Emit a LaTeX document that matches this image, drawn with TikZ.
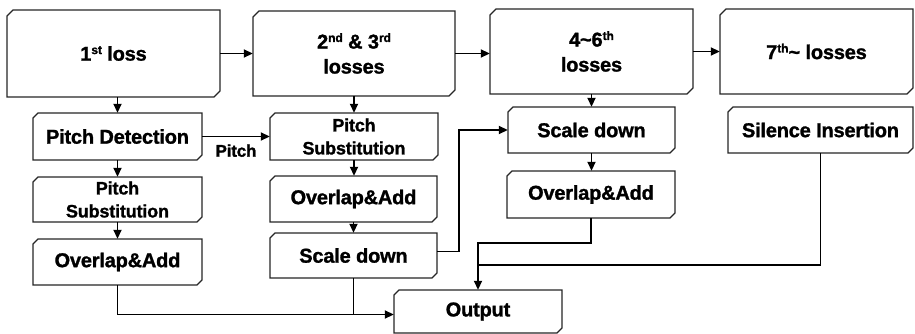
\documentclass[tikz,border=0pt]{standalone}
\usepackage{fontspec}
\setmainfont{Liberation Sans}[BoldFeatures={FakeBold=1.3,LetterSpace=-1}]
\usetikzlibrary{arrows.meta,calc}
\newcommand\myfs[2]{\fontsize{#1}{#2}\selectfont\bfseries}
\newcommand\sups[1]{\raisebox{0.33em}{\fontsize{12}{12}\selectfont\bfseries #1}}
\tikzset{
  boxline/.style={draw=black!85, line width=1.2pt, fill=white, line join=miter},
  boxnode/.style={rectangle, inner sep=0pt, align=center, text=black},
  big/.style={font=\myfs{20}{25}},
  mid/.style={font=\myfs{18}{23}},
  conn/.style={draw=black, line width=1.8pt},
  arr/.style={conn, -{Triangle[length=9pt,width=8pt]}},
  lbl/.style={font=\myfs{17}{20}, inner sep=0pt}
}
% name, x1, y1, x2, y2, chamfer, text, style
\newcommand\cbox[8]{%
  \draw[boxline] (#2,#3+#6) -- (#2+#6,#3) -- (#4,#3) -- (#4,#5-#6) -- (#4-#6,#5) -- (#2,#5) -- cycle;
  \node[boxnode, #8, minimum width={#4pt-#2pt}, minimum height={#5pt-#3pt}] (#1) at ({(#2+#4)/2},{(#3+#5)/2}) {#7};
}
\begin{document}
\begin{tikzpicture}[x=1pt,y=-1pt]
\useasboundingbox (0,0) rectangle (915,334);
% top row
\cbox{b1}{7}{10}{220}{97}{6}{1\sups{st} loss}{big}
\cbox{b2}{253}{11}{455}{96}{6}{2\sups{nd} \& 3\sups{rd}\\losses}{big}
\cbox{b3}{490}{9}{693}{94}{6}{4\textasciitilde6\sups{th}\\losses}{big}
\cbox{b4}{720}{9}{913}{94}{6}{7\sups{th}\textasciitilde{} losses}{big}
% second row
\cbox{pd}{33}{113}{202}{160}{5}{Pitch Detection}{big}
\cbox{ps2}{270}{113}{438}{160}{5}{Pitch\\Substitution}{mid}
\cbox{sd3}{508}{107}{675}{153}{5}{Scale down}{big}
\cbox{si}{728}{107}{913}{153}{5}{Silence Insertion}{big}
% third row
\cbox{ps1}{33}{177}{202}{222}{5}{Pitch\\Substitution}{mid}
\cbox{oa2}{270}{176}{437}{222}{5}{Overlap\&Add}{big}
\cbox{oa3}{507}{171}{675}{218}{5}{Overlap\&Add}{big}
% fourth row
\cbox{oa1}{33}{239}{202}{285}{5}{Overlap\&Add}{big}
\cbox{sd2}{270}{233}{437}{278}{5}{Scale down}{big}
% output
\cbox{out}{394}{290}{562}{333}{5}{Output}{big}
% helper coordinates
\coordinate (low) at ([yshift=-3pt]out.west);
\coordinate (j1) at (459,0);
\coordinate (y265) at (0,265);
% top chain
\draw[arr] (b1.east) -- (b2.west);
\draw[arr] (b2.east) -- (b2.east -| b3.west);
\draw[arr] (b3.east) -- (b3.east -| b4.west);
% column 1
\draw[arr] (b1.south -| pd.north) -- (pd.north);
\draw[arr] (pd.south) -- (ps1.north);
\draw[arr] (ps1.south) -- (oa1.north);
\draw[arr] (oa1.south) |- (low);
\draw[arr] (pd.east) -- node[lbl, below=7pt] {Pitch} (pd.east -| ps2.west);
% column 2
\draw[arr] (b2.south -| ps2.north) -- (ps2.north);
\draw[arr] (ps2.south) -- (ps2.south |- oa2.north);
\draw[arr] (oa2.south) -- (oa2.south |- sd2.north);
\draw[conn] (sd2.south) -- (sd2.south |- low);
\draw[arr] ([yshift=4pt]sd2.east) -| (j1 |- sd3.west) -- (sd3.west);
% column 3
\draw[arr] (b3.south -| sd3.north) -- (sd3.north);
\draw[arr] (sd3.south) -- (sd3.south |- oa3.north);
\draw[arr] (oa3.south) -- ++(0,25) -| (out.north);
% column 4
\draw[conn] (si.south) |- (out.north |- y265);
\end{tikzpicture}
\end{document}
